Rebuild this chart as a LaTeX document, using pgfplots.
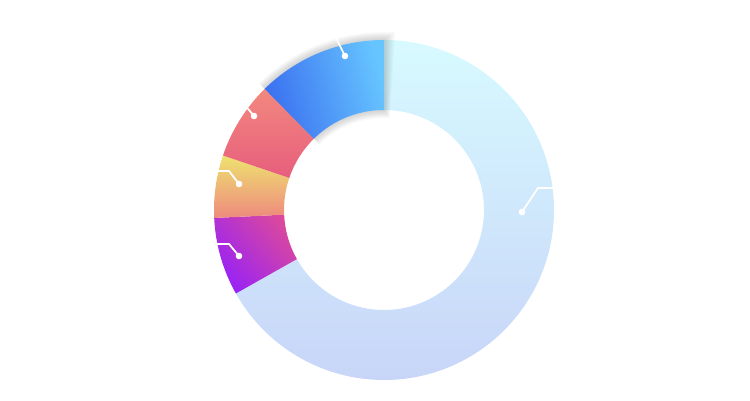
\documentclass[border=0pt]{standalone}
\usepackage{pgfplots}
\usepackage{pgfplotstable}
\pgfplotsset{compat=1.18}

% segment colours (start / end of each gradient)
\definecolor{s0a}{RGB}{215,250,255}
\definecolor{s0b}{RGB}{200,213,248}
\definecolor{s1a}{RGB}{152,34,246}
\definecolor{s1b}{RGB}{218,72,158}
\definecolor{s2a}{RGB}{238,138,125}
\definecolor{s2b}{RGB}{238,226,112}
\definecolor{s3a}{RGB}{231,94,125}
\definecolor{s3b}{RGB}{242,136,126}
\definecolor{s4a}{RGB}{58,112,240}
\definecolor{s4b}{RGB}{102,196,255}

% slices, clockwise from 12 o'clock
\pgfplotstableread{
idx value shade
0 540 0
1 60 -50
2 48 0
3 60 0
4 100 -75
}\piedata

\pgfplotstablegetrowsof{\piedata}
\pgfmathtruncatemacro\nlast{\pgfplotsretval-1}
\gdef\total{0}
\foreach \i in {0,...,\nlast}{%
  \pgfplotstablegetelem{\i}{value}\of\piedata
  \pgfmathsetmacro\t{\total+\pgfplotsretval}%
  \xdef\total{\t}}
\gdef\cur{90}
\foreach \i in {0,...,\nlast}{%
  \pgfplotstablegetelem{\i}{value}\of\piedata
  \pgfmathsetmacro\e{\cur-(\pgfplotsretval/\total)*360}%
  \expandafter\xdef\csname sa\i\endcsname{\cur}%
  \expandafter\xdef\csname ea\i\endcsname{\e}%
  \pgfplotstablegetelem{\i}{shade}\of\piedata
  \expandafter\xdef\csname sh\i\endcsname{\pgfplotsretval}%
  \xdef\cur{\e}}

\def\Ro{170}
\def\Ri{100}

% ring sector: start angle, end angle, outer radius, inner radius
\tikzset{ring/.style n args={4}{insert path={
  (axis cs:{(#3)*cos(#1)},{(#3)*sin(#1)})
  arc[start angle={#1}, end angle={#2}, radius={#3}]
  -- (axis cs:{(#4)*cos(#2)},{(#4)*sin(#2)})
  arc[start angle={#2}, end angle={#1}, radius={#4}]
  -- cycle}}}

\begin{document}
\begin{tikzpicture}
\begin{axis}[
  hide axis,
  scale only axis,
  width=15cm, height=8cm,
  xmin=-384, xmax=366,
  ymin=-190, ymax=210,
  disabledatascaling,
  clip=false,
]
\path (axis cs:-384,-190) rectangle (axis cs:366,210);

% big slice: cyan at the top, lavender at the bottom
\shade[top color=s0a, bottom color=s0b]
    [ring={\csname sa0\endcsname}{\csname ea0\endcsname}{\Ro}{\Ri}];

\pgfplotsinvokeforeach{1,...,3}{
  \shade[bottom color=s#1a, top color=s#1b, shading angle=\csname sh#1\endcsname]
    [ring={\csname sa#1\endcsname}{\csname ea#1\endcsname}{\Ro}{\Ri}];
}

% soft shadow of the highlighted blue slice
\pgfplotsinvokeforeach{1,...,9}{
  \fill[black, opacity=0.02]
    [ring={\csname sa4\endcsname}{\csname ea4\endcsname-#1*0.4}{\Ro+#1*0.9}{\Ri-#1*0.9}];
}

\shade[bottom color=s4a, top color=s4b, shading angle=\csname sh4\endcsname]
    [ring={\csname sa4\endcsname}{\csname ea4\endcsname}{\Ro}{\Ri}];

% label leader lines (labels themselves are white)
\begin{scope}[white, line width=1pt]
\draw (axis cs:138,-2) -- (axis cs:154,22) -- (axis cs:186,22);
\draw (axis cs:-39,154) -- (axis cs:-48,172);
\draw (axis cs:-130,94) -- (axis cs:-140,106);
\draw (axis cs:-145,26) -- (axis cs:-155,39) -- (axis cs:-180,39);
\draw (axis cs:-145,-46) -- (axis cs:-155,-34) -- (axis cs:-180,-34);
\fill (axis cs:138,-2) circle[radius=3.3];
\fill (axis cs:-39,154) circle[radius=3.3];
\fill (axis cs:-130,94) circle[radius=3.3];
\fill (axis cs:-145,26) circle[radius=3.3];
\fill (axis cs:-145,-46) circle[radius=3.3];
\end{scope}
\end{axis}
\end{tikzpicture}
\end{document}
